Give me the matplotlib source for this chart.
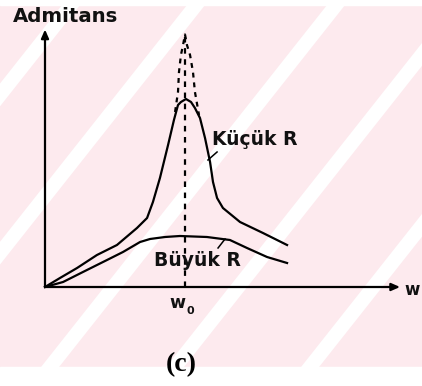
import matplotlib
matplotlib.use("Agg")
import matplotlib.pyplot as plt
import numpy as np

# ---- data (w / w0, admittance in arbitrary units) ----
small_R_w = [0.0, 0.107, 0.229, 0.371, 0.514, 0.657, 0.729, 0.771, 0.821, 0.879,
             0.921, 0.95, 0.971, 1.007, 1.043, 1.071, 1.107, 1.143, 1.179, 1.2,
             1.229, 1.271, 1.393, 1.557, 1.729]
small_R_y = [0.0, 0.36, 0.76, 1.28, 1.68, 2.36, 2.76, 3.4, 4.36, 5.68,
             6.68, 7.28, 7.4, 7.52, 7.4, 7.16, 6.76, 5.96, 5.0, 4.2,
             3.56, 3.16, 2.6, 2.16, 1.68]

large_R_w = [0.0, 0.129, 0.271, 0.443, 0.557, 0.679, 0.75, 0.857, 0.964,
             1.157, 1.321, 1.443, 1.586, 1.729]
large_R_y = [0.0, 0.2, 0.6, 1.08, 1.4, 1.8, 1.92, 2.0, 2.04,
             2.0, 1.88, 1.56, 1.2, 0.96]

zero_R_w = [0.929, 0.95, 0.957, 0.971, 0.986, 1.0, 1.014, 1.036, 1.057, 1.071, 1.1]
zero_R_y = [7.0, 7.8, 8.6, 9.28, 9.68, 10.1, 9.68, 9.28, 8.6, 7.8, 6.88]

w0 = 1.0
y_label = "Admitans"
x_label = "w"
label_small = "Küçük R"
label_large = "Büyük R"
caption = "(c)"

W, H = 422, 386
fig = plt.figure(figsize=(W / 100, H / 100), dpi=100)
fig.patch.set_facecolor("white")

# ---- background watermark (decoration, image-pixel coordinates) ----
bg = fig.add_axes([0, 0, 1, 1])
bg.set_xlim(0, W)
bg.set_ylim(H, 0)
bg.axis("off")
pink = "#fdeaee"
bg.add_patch(plt.Rectangle((0, 5), W, 362, color=pink, zorder=0))
k = 0.79
for c in [75, 200, 340, 465, 600, 740]:
    ys = np.array([-50, 450])
    xs_left = (c - 9) - k * ys
    xs_right = (c + 9) - k * ys
    poly = np.array([[xs_left[0], ys[0]], [xs_right[0], ys[0]],
                     [xs_right[1], ys[1]], [xs_left[1], ys[1]]])
    bg.add_patch(plt.Polygon(poly, closed=True, color="white", zorder=1, lw=0))
bg.add_patch(plt.Rectangle((0, 367), W, 30, color="white", zorder=2))
bg.add_patch(plt.Rectangle((0, -10), W, 15, color="white", zorder=2))

# ---- main axes ----
ax = fig.add_axes([0, 0, 1, 1])
ax.patch.set_alpha(0)
ax.set_xlim(-45 / 140, (W - 45) / 140)
ax.set_ylim(-99 / 25, (H - 99) / 25)
ax.axis("off")

lw = 1.6
# axes with arrows
ax.annotate("", xy=(2.536, 0), xytext=(0, 0),
            arrowprops=dict(arrowstyle="-|>,head_length=0.5,head_width=0.22",
                            lw=lw, color="black", shrinkA=0, shrinkB=0))
ax.annotate("", xy=(0, 10.3), xytext=(0, 0),
            arrowprops=dict(arrowstyle="-|>,head_length=0.5,head_width=0.22",
                            lw=lw, color="black", shrinkA=0, shrinkB=0))

ax.plot(small_R_w, small_R_y, color="black", lw=lw, solid_joinstyle="round")
ax.plot(large_R_w, large_R_y, color="black", lw=lw, solid_joinstyle="round")
ax.plot(zero_R_w, zero_R_y, color="black", lw=lw, ls=(0, (2.2, 2.2)))
ax.plot([w0, w0], [0, max(zero_R_y)], color="black", lw=lw, ls=(0, (2.5, 2.5)))

bold = dict(family="DejaVu Sans", weight="bold", color="#111111")
ax.text(-0.229, 10.8, y_label, fontsize=14.2, ha="left", va="center", **bold)
ax.text(1.19, 5.92, label_small, fontsize=13.5, ha="left", va="center", **bold)
ax.text(0.779, 1.08, label_large, fontsize=13.5, ha="left", va="center", **bold)
ax.text(2.57, -0.12, x_label, fontsize=12, ha="left", va="center", **bold)
ax.text(w0 + 0.005, -0.62, "w", fontsize=12.5, ha="right", va="center", **bold)
ax.text(w0 + 0.01, -0.95, "0", fontsize=8, ha="left", va="center", **bold)
ax.text(0.971, -3.12, caption, fontsize=20, ha="center", va="center",
        family="Liberation Serif", weight="bold", color="black")

# leader lines
ax.plot([1.229, 1.164], [5.4, 5.08], color="black", lw=1.1)
ax.plot([1.236, 1.286], [1.56, 1.92], color="black", lw=1.1)

fig.savefig("out.png", dpi=100)
